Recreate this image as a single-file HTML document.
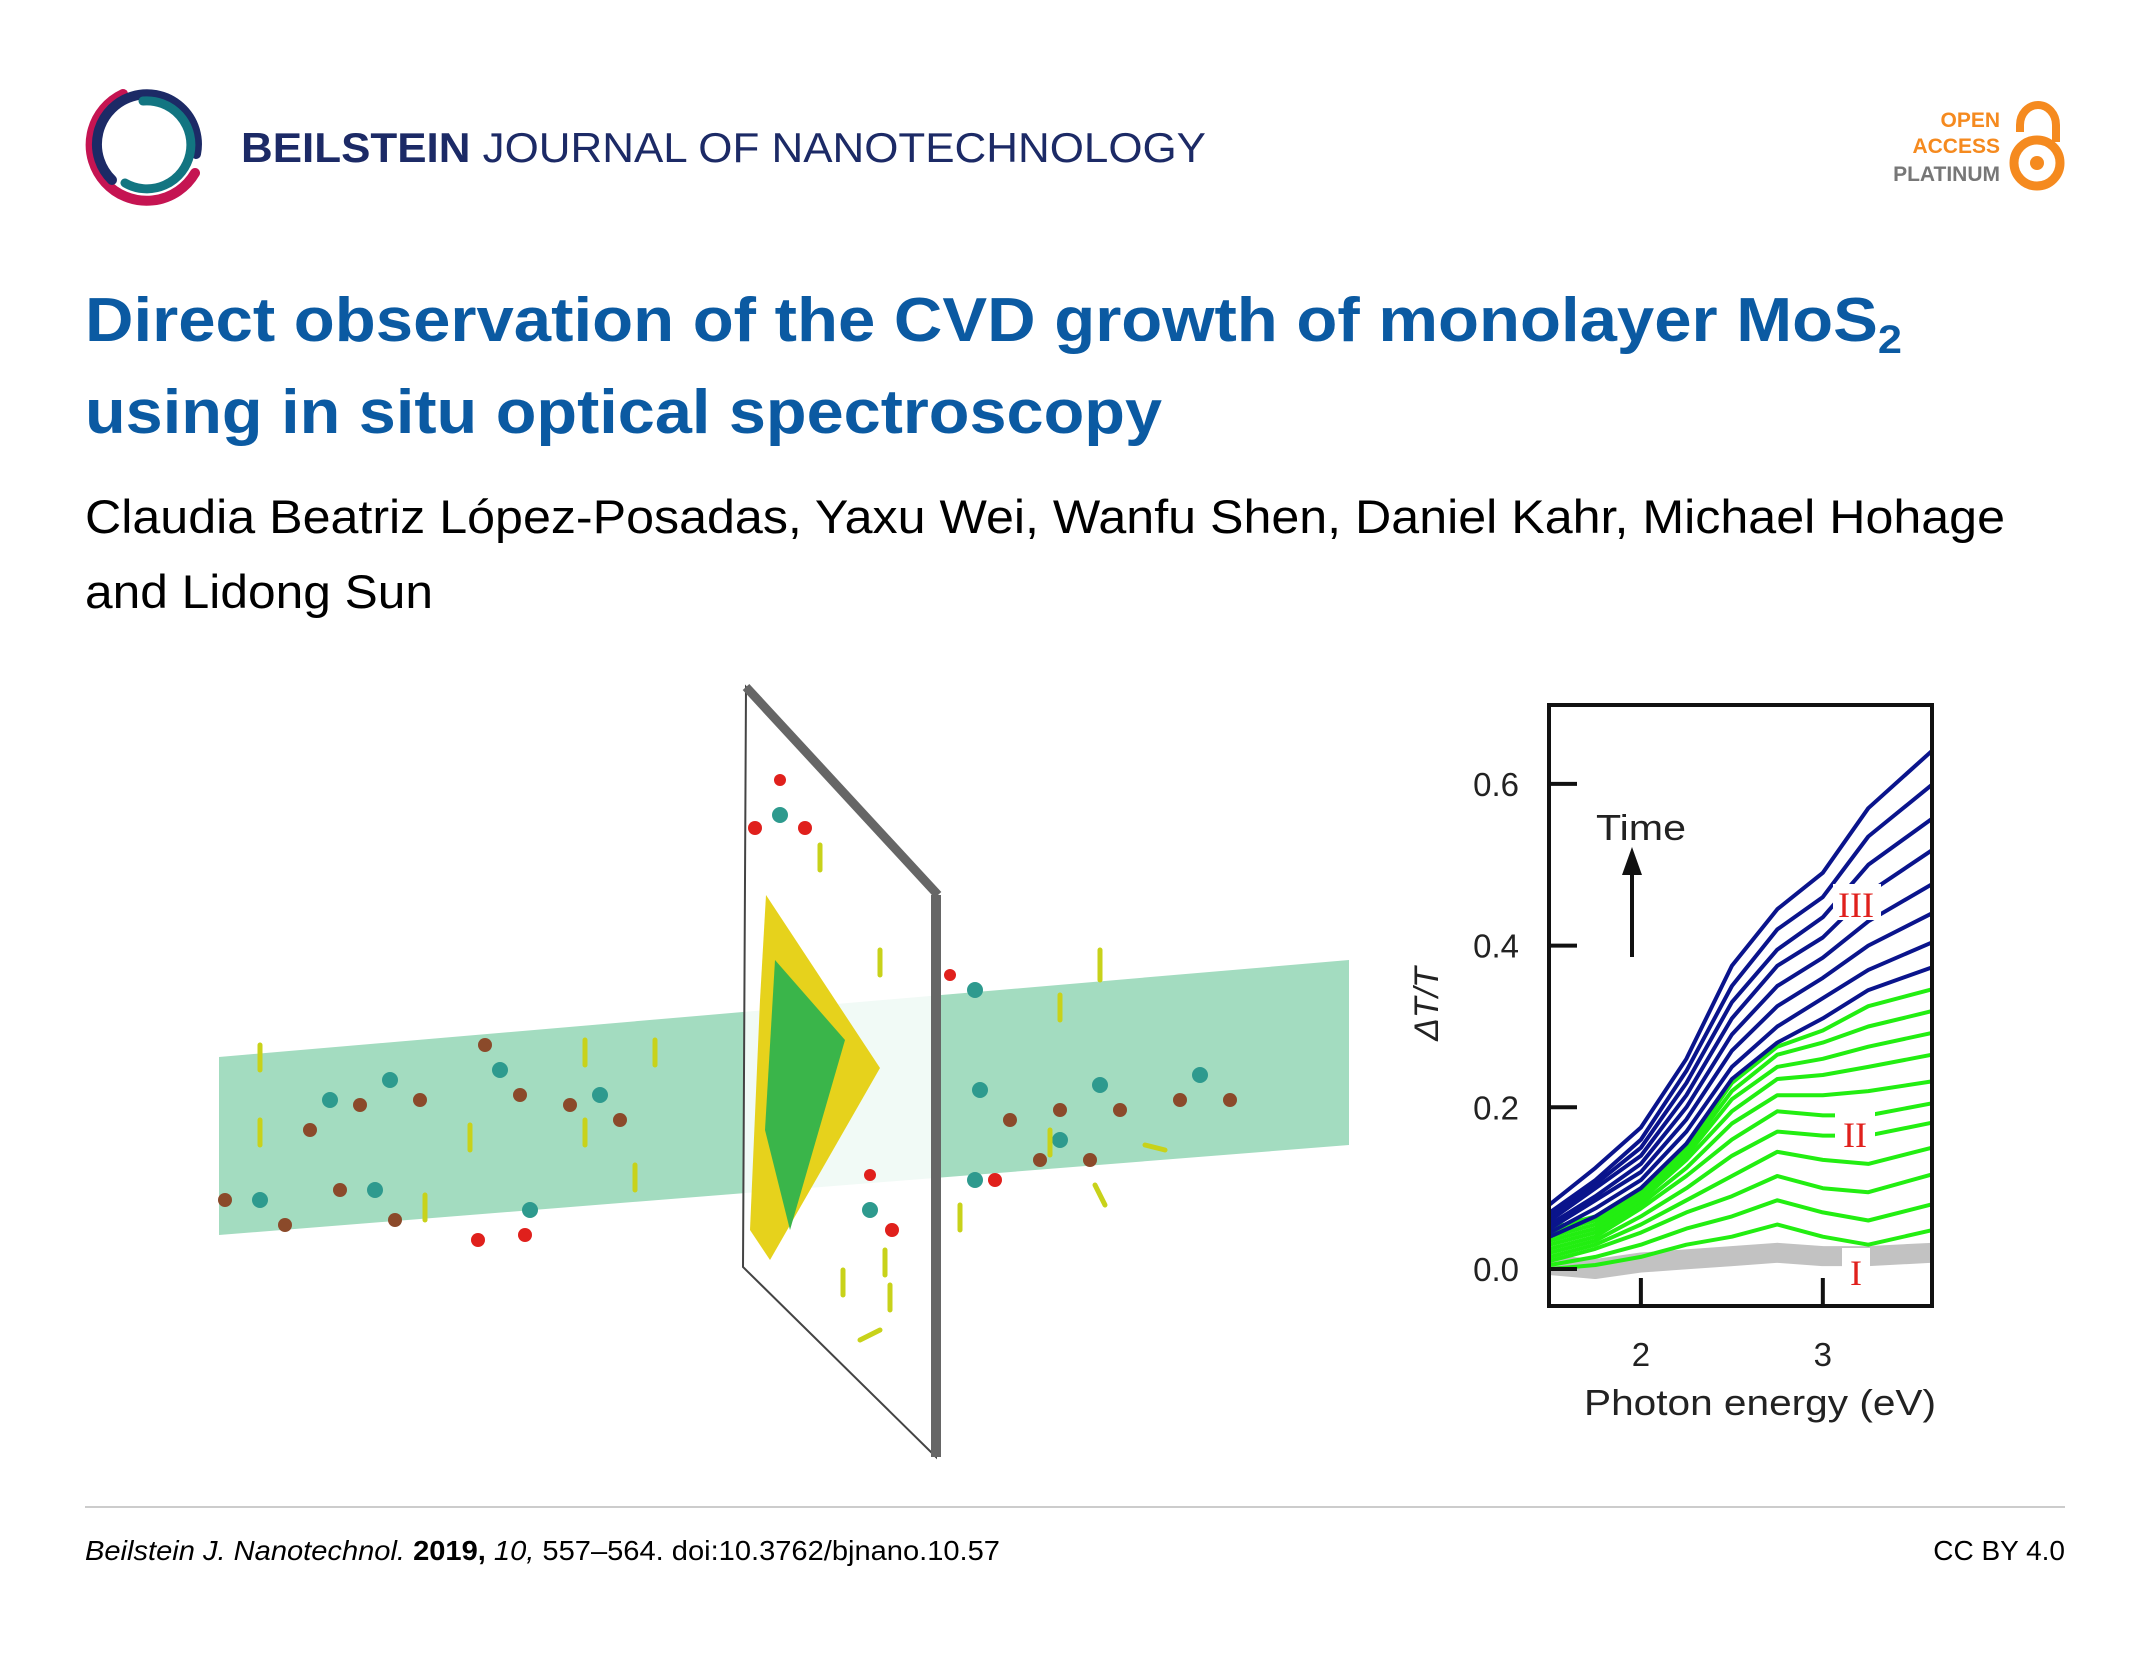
<!DOCTYPE html>
<html><head><meta charset="utf-8">
<style>
html,body{margin:0;padding:0;background:#fff;}
svg{display:block;}
text{font-family:"Liberation Sans",Arial,sans-serif;}
text.serif{font-family:"Liberation Serif","DejaVu Serif",serif;}
</style></head>
<body>
<svg id="page" width="2150" height="1658" viewBox="0 0 2150 1658" xmlns="http://www.w3.org/2000/svg">
<rect width="2150" height="1658" fill="#fff"/>
<!-- logo -->
<g fill="none" stroke-linecap="round">
  <path d="M 123 94 A 56 56 0 1 0 195 173" stroke="#c51452" stroke-width="10"/>
  <path d="M 112 180 A 50 50 0 1 1 196 154" stroke="#1c2a66" stroke-width="10"/>
  <path d="M 143 101 A 44 44 0 1 1 125 183" stroke="#127581" stroke-width="9"/>
</g>
<text x="241" y="162" font-size="42" fill="#1c2a66" textLength="965" lengthAdjust="spacingAndGlyphs"><tspan font-weight="bold">BEILSTEIN</tspan> JOURNAL OF NANOTECHNOLOGY</text>
<!-- open access -->
<g>
  <text x="2000" y="127" font-size="21" font-weight="bold" fill="#f58a1f" text-anchor="end">OPEN</text>
  <text x="2000" y="153" font-size="21" font-weight="bold" fill="#f58a1f" text-anchor="end">ACCESS</text>
  <text x="2000" y="181" font-size="21" font-weight="bold" fill="#777" text-anchor="end">PLATINUM</text>
  <path d="M 2020 132 L 2020 125 A 18 20 0 0 1 2056 125 L 2056 142" fill="none" stroke="#f58a1f" stroke-width="8"/>
  <circle cx="2037" cy="163" r="23" fill="none" stroke="#f58a1f" stroke-width="9"/>
  <circle cx="2037" cy="163" r="7" fill="#f58a1f"/>
</g>
<!-- title -->
<text x="85" y="341" font-size="62" font-weight="bold" fill="#0b5aa2" textLength="1817" lengthAdjust="spacingAndGlyphs">Direct observation of the CVD growth of monolayer MoS<tspan font-size="40" dy="12">2</tspan></text>
<text x="85" y="433" font-size="62" font-weight="bold" fill="#0b5aa2" textLength="1077" lengthAdjust="spacingAndGlyphs">using in situ optical spectroscopy</text>
<text x="85" y="533" font-size="47" fill="#000" textLength="1920" lengthAdjust="spacingAndGlyphs">Claudia Beatriz López-Posadas, Yaxu Wei, Wanfu Shen, Daniel Kahr, Michael Hohage</text>
<text x="85" y="608" font-size="47" fill="#000" textLength="348" lengthAdjust="spacingAndGlyphs">and Lidong Sun</text>

<!-- illustration -->
<g>
  <polygon points="219,1057 1349,960 1349,1145 219,1235" fill="#a3dcc0"/>
  <polygon points="746,687 936,895 936,1457 743,1267" fill="#fff" fill-opacity="0.85" stroke="#444" stroke-width="2"/>
  <line x1="746" y1="687" x2="938" y2="895" stroke="#666" stroke-width="9"/>
  <line x1="936" y1="895" x2="936" y2="1457" stroke="#666" stroke-width="10"/>
  <polygon points="766,895 880,1068 770,1260 750,1230 760,1000" fill="#e6d21c"/>
  <polygon points="775,960 845,1040 790,1230 765,1130" fill="#3ab54a"/>
  <g fill="#2e9a8e">
    <circle cx="330" cy="1100" r="8"/><circle cx="390" cy="1080" r="8"/><circle cx="500" cy="1070" r="8"/>
    <circle cx="600" cy="1095" r="8"/><circle cx="260" cy="1200" r="8"/><circle cx="375" cy="1190" r="8"/>
    <circle cx="530" cy="1210" r="8"/><circle cx="980" cy="1090" r="8"/><circle cx="1100" cy="1085" r="8"/>
    <circle cx="1200" cy="1075" r="8"/><circle cx="1060" cy="1140" r="8"/><circle cx="975" cy="1180" r="8"/>
    <circle cx="780" cy="815" r="8"/><circle cx="870" cy="1210" r="8"/><circle cx="975" cy="990" r="8"/>
  </g>
  <g fill="#8b4a2a">
    <circle cx="310" cy="1130" r="7"/><circle cx="360" cy="1105" r="7"/><circle cx="420" cy="1100" r="7"/>
    <circle cx="485" cy="1045" r="7"/><circle cx="520" cy="1095" r="7"/><circle cx="570" cy="1105" r="7"/>
    <circle cx="620" cy="1120" r="7"/><circle cx="225" cy="1200" r="7"/><circle cx="285" cy="1225" r="7"/>
    <circle cx="340" cy="1190" r="7"/><circle cx="395" cy="1220" r="7"/><circle cx="1010" cy="1120" r="7"/>
    <circle cx="1060" cy="1110" r="7"/><circle cx="1120" cy="1110" r="7"/><circle cx="1180" cy="1100" r="7"/>
    <circle cx="1230" cy="1100" r="7"/><circle cx="1040" cy="1160" r="7"/><circle cx="1090" cy="1160" r="7"/>
  </g>
  <g fill="#e0201c">
    <circle cx="478" cy="1240" r="7"/><circle cx="525" cy="1235" r="7"/><circle cx="755" cy="828" r="7"/>
    <circle cx="805" cy="828" r="7"/><circle cx="780" cy="780" r="6"/><circle cx="892" cy="1230" r="7"/>
    <circle cx="870" cy="1175" r="6"/><circle cx="995" cy="1180" r="7"/><circle cx="950" cy="975" r="6"/>
  </g>
  <g stroke="#c8d21a" stroke-width="5" stroke-linecap="round">
    <line x1="260" y1="1045" x2="260" y2="1070"/><line x1="260" y1="1120" x2="260" y2="1145"/>
    <line x1="585" y1="1040" x2="585" y2="1065"/><line x1="655" y1="1040" x2="655" y2="1065"/>
    <line x1="470" y1="1125" x2="470" y2="1150"/><line x1="585" y1="1120" x2="585" y2="1145"/>
    <line x1="635" y1="1165" x2="635" y2="1190"/><line x1="425" y1="1195" x2="425" y2="1220"/>
    <line x1="1050" y1="1130" x2="1050" y2="1155"/><line x1="1060" y1="995" x2="1060" y2="1020"/>
    <line x1="1100" y1="950" x2="1100" y2="980"/><line x1="880" y1="950" x2="880" y2="975"/>
    <line x1="820" y1="845" x2="820" y2="870"/><line x1="885" y1="1250" x2="885" y2="1275"/>
    <line x1="843" y1="1270" x2="843" y2="1295"/><line x1="890" y1="1285" x2="890" y2="1310"/>
    <line x1="960" y1="1205" x2="960" y2="1230"/><line x1="1095" y1="1185" x2="1105" y2="1205"/>
    <line x1="880" y1="1330" x2="860" y2="1340"/><line x1="1145" y1="1145" x2="1165" y2="1150"/>
  </g>
</g>

<!-- chart -->
<g id="chart">
  <g id="series"></g>
  <rect x="1549" y="705" width="383" height="601" fill="none" stroke="#111" stroke-width="4"/>
  <g id="axes"></g>
  <text x="0" y="0" font-size="34" font-style="italic" fill="#222" text-anchor="middle" transform="translate(1438,1004) rotate(-90)">ΔT/T</text>
  <text x="1760" y="1415" font-size="36" fill="#222" text-anchor="middle" textLength="352" lengthAdjust="spacingAndGlyphs">Photon energy (eV)</text>
  <text x="1596" y="840" font-size="36" fill="#222" textLength="90" lengthAdjust="spacingAndGlyphs">Time</text>
  <line x1="1632" y1="957" x2="1632" y2="872" stroke="#111" stroke-width="4"/>
  <polygon points="1622,875 1642,875 1632,847" fill="#111"/>
  <rect x="1833" y="884" width="48" height="36" fill="#fff"/>
  <text class="serif" x="1856" y="917" font-size="36" fill="#e0201c" text-anchor="middle">III</text>
  <rect x="1835" y="1110" width="40" height="44" fill="#fff"/>
  <text class="serif" x="1855" y="1147" font-size="36" fill="#e0201c" text-anchor="middle">II</text>
  <rect x="1842" y="1248" width="28" height="36" fill="#fff"/>
  <text class="serif" x="1856" y="1285" font-size="36" fill="#e0201c" text-anchor="middle">I</text>
</g>

<line x1="85" y1="1507" x2="2065" y2="1507" stroke="#ccc" stroke-width="2"/>
<text x="85" y="1560" font-size="28" fill="#000" textLength="915" lengthAdjust="spacingAndGlyphs"><tspan font-style="italic">Beilstein J. Nanotechnol.</tspan> <tspan font-weight="bold">2019,</tspan> <tspan font-style="italic">10,</tspan> 557–564. doi:10.3762/bjnano.10.57</text>
<text x="2065" y="1560" font-size="28" fill="#000" text-anchor="end">CC BY 4.0</text>
</svg>
<script>
const energies = [1.5, 1.75, 2.0, 2.25, 2.5, 2.75, 3.0, 3.25, 3.6];
const grayCurve = [0.005, 0.0, 0.008, 0.012, 0.016, 0.02, 0.016, 0.016, 0.02];
const greenCurves = [
  [0.00,0.005,0.015,0.03,0.04,0.055,0.04,0.03,0.048],
  [0.005,0.015,0.03,0.05,0.065,0.085,0.07,0.06,0.080],
  [0.01,0.025,0.045,0.07,0.09,0.115,0.10,0.095,0.117],
  [0.015,0.03,0.055,0.085,0.115,0.145,0.135,0.13,0.150],
  [0.02,0.035,0.065,0.10,0.14,0.17,0.165,0.165,0.181],
  [0.025,0.04,0.075,0.115,0.16,0.195,0.19,0.19,0.205],
  [0.03,0.045,0.08,0.125,0.18,0.215,0.215,0.22,0.232],
  [0.035,0.05,0.085,0.135,0.195,0.235,0.24,0.25,0.265],
  [0.04,0.055,0.09,0.14,0.21,0.25,0.26,0.275,0.292],
  [0.045,0.06,0.095,0.145,0.22,0.265,0.28,0.30,0.319],
  [0.05,0.065,0.10,0.15,0.23,0.275,0.295,0.325,0.346]
];
const blueCurves = [
  [0.04,0.065,0.10,0.155,0.235,0.28,0.31,0.345,0.373],
  [0.045,0.075,0.11,0.17,0.25,0.30,0.335,0.37,0.404],
  [0.05,0.085,0.12,0.185,0.27,0.325,0.36,0.40,0.440],
  [0.055,0.09,0.13,0.20,0.29,0.35,0.385,0.43,0.476],
  [0.06,0.10,0.14,0.215,0.31,0.375,0.41,0.465,0.518],
  [0.065,0.105,0.15,0.23,0.33,0.395,0.435,0.50,0.557],
  [0.07,0.11,0.16,0.245,0.35,0.42,0.46,0.535,0.599],
  [0.08,0.125,0.175,0.26,0.375,0.445,0.49,0.57,0.641]
];
const yTicks = [0.0, 0.2, 0.4, 0.6];
const yTickLabels = ["0.0", "0.2", "0.4", "0.6"];
const xTicks = [2, 3];
const xTickLabels = ["2", "3"];

const NS = "http://www.w3.org/2000/svg";
const X0 = 1549, X1 = 1932, E0 = 1.495, E1 = 3.6;
const Y0 = 1269, PX_PER_UNIT = 808.5;
function xs(e){ return X0 + (e - E0) / (E1 - E0) * (X1 - X0); }
function ys(v){ return Y0 - v * PX_PER_UNIT; }

const seriesG = document.getElementById('series');
function drawCurve(vals, color, width, name){
  const p = document.createElementNS(NS, 'polyline');
  p.setAttribute('points', vals.map((v,i)=>xs(energies[i]).toFixed(1)+','+ys(v).toFixed(1)).join(' '));
  p.setAttribute('fill','none');
  p.setAttribute('stroke',color);
  p.setAttribute('stroke-width',width);
  p.setAttribute('stroke-linejoin','round');
  
  
  seriesG.appendChild(p);
}
drawCurve(grayCurve, '#c2c2c2', 20, 'gray-spectrum');
greenCurves.forEach((c,i)=>drawCurve(c, '#22ee11', 4, 'green-spectrum-'+(i+1)));
blueCurves.forEach((c,i)=>drawCurve(c, '#0a148c', 4, 'blue-spectrum-'+(i+1)));

const axesG = document.getElementById('axes');
yTicks.forEach((t,i)=>{
  const l = document.createElementNS(NS,'line');
  l.setAttribute('x1', X0); l.setAttribute('x2', X0+28);
  l.setAttribute('y1', ys(t)); l.setAttribute('y2', ys(t));
  l.setAttribute('stroke','#111'); l.setAttribute('stroke-width','4');
  
  
  axesG.appendChild(l);
  const tx = document.createElementNS(NS,'text');
  tx.setAttribute('x', 1519); tx.setAttribute('y', ys(t)+12);
  tx.setAttribute('font-size','33'); tx.setAttribute('fill','#222');
  tx.setAttribute('text-anchor','end');
  tx.textContent = yTickLabels[i];
  
  
  axesG.appendChild(tx);
});
xTicks.forEach((t,i)=>{
  const l = document.createElementNS(NS,'line');
  l.setAttribute('x1', xs(t)); l.setAttribute('x2', xs(t));
  l.setAttribute('y1', 1306); l.setAttribute('y2', 1278);
  l.setAttribute('stroke','#111'); l.setAttribute('stroke-width','4');
  
  
  axesG.appendChild(l);
  const tx = document.createElementNS(NS,'text');
  tx.setAttribute('x', xs(t)); tx.setAttribute('y', 1366);
  tx.setAttribute('font-size','33'); tx.setAttribute('fill','#222');
  tx.setAttribute('text-anchor','middle');
  tx.textContent = xTickLabels[i];
  
  
  axesG.appendChild(tx);
});
</script>
</body></html>
